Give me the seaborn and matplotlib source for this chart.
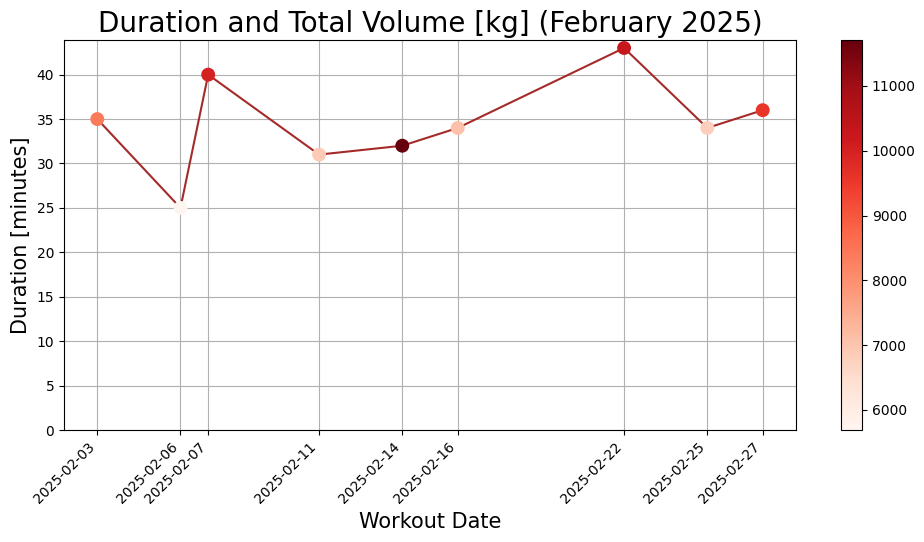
import numpy as np
import pandas as pd
import matplotlib
matplotlib.use("Agg")
import matplotlib.pyplot as plt
import seaborn as sns

# Workout data (February 2025)
dates = ["2025-02-03", "2025-02-06", "2025-02-07", "2025-02-11", "2025-02-14",
         "2025-02-16", "2025-02-22", "2025-02-25", "2025-02-27"]
duration = [35, 25, 40, 31, 32, 34, 43, 34, 36]
total_volume = [8400, 5690, 10000, 6900, 11710, 7100, 10300, 6800, 9600]

df = pd.DataFrame({
    "date": pd.to_datetime(dates),
    "duration": duration,
    "volume": total_volume,
})

W, H = 924, 542
fig = plt.figure(figsize=(W / 100, H / 100), dpi=100)
ax = fig.add_axes([64 / W, 1 - 430 / H, (796 - 64) / W, (430 - 40) / H])
cax = fig.add_axes([841 / W, 1 - 430 / H, 21 / W, (430 - 40) / H])

# Connecting line
sns.lineplot(data=df, x="date", y="duration", color="brown", ax=ax, zorder=2)

# Points coloured by total volume
norm = plt.Normalize(df["volume"].min(), df["volume"].max())
sns.scatterplot(data=df, x="date", y="duration", hue="volume", hue_norm=norm,
                palette="Reds", s=100, linewidth=0, legend=False, ax=ax, zorder=3)

sm = plt.cm.ScalarMappable(cmap="Reds", norm=norm)
sm.set_array([])
fig.colorbar(sm, cax=cax)

ax.set_title("Duration and Total Volume [kg] (February 2025)", fontsize=20)
ax.set_xlabel("Workout Date", fontsize=15)
ax.set_ylabel("Duration [minutes]", fontsize=15)
ax.set_ylim(bottom=0)
ax.set_xticks(df["date"])
ax.set_xticklabels(dates, rotation=45, ha="right")
ax.grid(True)

plt.savefig("out.png", dpi=100)
